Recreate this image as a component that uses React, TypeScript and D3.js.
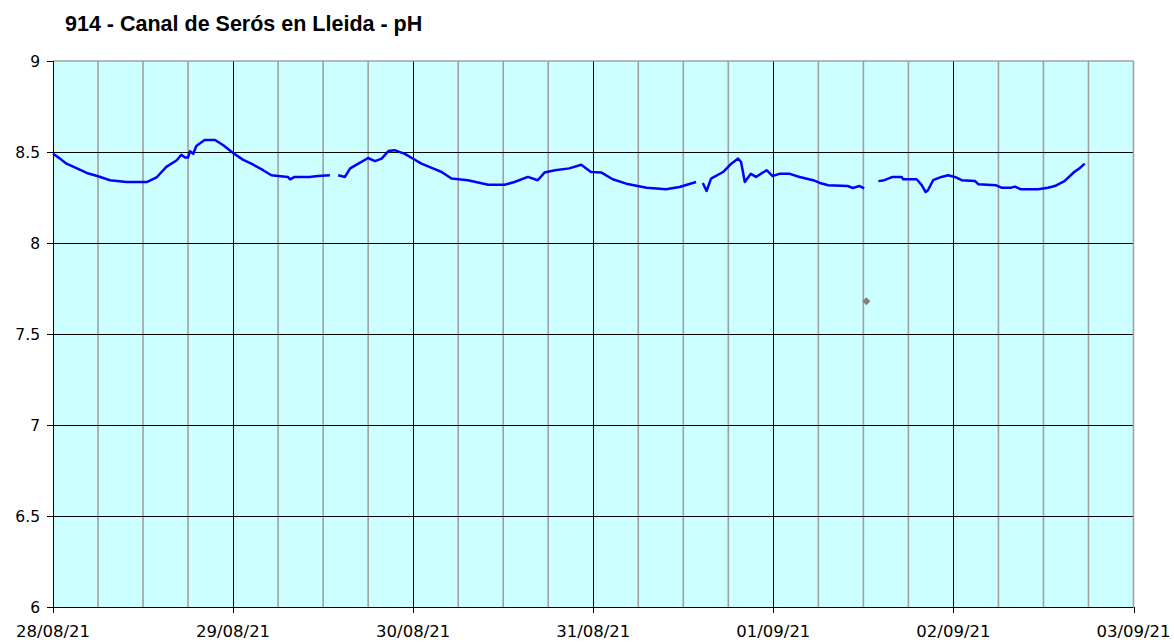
import React from "react";
import * as d3 from "d3";

const TITLE = "914 - Canal de Serós en Lleida - pH";
const dayLabels = ["28/08/21", "29/08/21", "30/08/21", "31/08/21", "01/09/21", "02/09/21", "03/09/21"];
const yTicks = [6, 6.5, 7, 7.5, 8, 8.5, 9];
const yTickLabels = ["6", "6.5", "7", "7.5", "8", "8.5", "9"];

// hours since 28/08/21 00:00 and pH value (null = gap)
const hours: number[] = [
  0, 0.9, 1.8, 3.2, 4.5, 6.0, 7.6, 9.8, 12.5, 13.8, 15.1, 16.5, 17.1, 17.6, 18.0, 18.25, 18.7, 19.1, 20.2, 21.6,
  22.7, 24.0, 25.3, 26.7, 28.0, 29.1, 31.3, 31.6, 32.2, 34.2, 35.3, 36.9, 37.5,
  38.0, 38.9, 39.6, 40.7, 42.0, 42.9, 43.8, 44.7, 45.5, 46.9, 47.7, 49.1, 50.4, 51.8, 53.1, 55.3, 58.0, 60.2,
  61.5, 63.3, 64.6, 65.5, 66.9, 68.8, 70.4, 71.7, 73.1, 74.6, 76.4, 79.1, 81.7, 83.5, 85.7, 86.2,
  86.6, 87.1, 87.7, 89.3, 90.4, 91.3, 91.7, 92.2, 93.0, 93.7, 95.1, 95.9, 96.8, 98.2, 99.5, 101.3, 102.2,
  103.3, 105.9, 106.6, 107.5, 108.1, 109.0,
  110.0, 110.8, 111.9, 113.1, 113.3, 115.1, 115.8, 116.3, 116.6, 117.3, 118.4, 119.3, 120.2, 121.1, 122.9,
  123.3, 125.7, 126.4, 127.7, 128.2, 129.0, 131.3, 132.6, 133.5, 134.8, 136.1, 136.8, 137.5,
];
const ph: (number | null)[] = [
  8.49, 8.465, 8.436, 8.41, 8.385, 8.367, 8.345, 8.335, 8.335, 8.36, 8.418, 8.455, 8.485, 8.47, 8.47, 8.504, 8.49, 8.533, 8.566, 8.566,
  8.537, 8.495, 8.458, 8.43, 8.40, 8.372, 8.363, 8.35, 8.363, 8.363, 8.368, 8.372, null,
  8.372, 8.363, 8.41, 8.436, 8.467, 8.45, 8.464, 8.505, 8.51, 8.49, 8.47, 8.436, 8.414, 8.39, 8.354, 8.345, 8.32, 8.32,
  8.335, 8.363, 8.345, 8.387, 8.40, 8.41, 8.43, 8.39, 8.387, 8.35, 8.326, 8.304, 8.295, 8.308, 8.335, null,
  8.33, 8.286, 8.354, 8.39, 8.436, 8.464, 8.445, 8.335, 8.38, 8.363, 8.40, 8.368, 8.38, 8.38, 8.363, 8.345, 8.33,
  8.317, 8.313, 8.302, 8.313, 8.30, null,
  8.34, 8.345, 8.363, 8.363, 8.35, 8.35, 8.317, 8.28, 8.29, 8.345, 8.363, 8.372, 8.363, 8.345, 8.34,
  8.323, 8.317, 8.304, 8.304, 8.31, 8.295, 8.295, 8.304, 8.313, 8.34, 8.39, 8.41, 8.436,
];
const isolatedHours = [108.4];
const isolatedPh = [7.68];

export default function App() {
  const W = 1174;
  const H = 642;
  const left = 53, right = 1133.5, top = 61, bottom = 607;
  const x = d3.scaleLinear().domain([0, 144]).range([left, right]);
  const y = d3.scaleLinear().domain([6, 9]).range([bottom, top]);
  const data = hours.map((h, i) => ({ h, v: ph[i] }));
  const line = d3
    .line<{ h: number; v: number | null }>()
    .defined((d) => d.v !== null)
    .x((d) => x(d.h))
    .y((d) => y(d.v as number));
  const minor = d3.range(6, 144, 6).filter((h) => h % 24 !== 0);
  const major = d3.range(24, 144, 24);
  const font = "'DejaVu Sans', Verdana, sans-serif";
  return (
    <svg width={W} height={H} style={{ position: "absolute", left: 0, top: 0, background: "#fff" }}>
      <text x={65} y={31} fontFamily="'Liberation Sans', Arial, sans-serif" fontWeight="bold" fontSize={21.5} fill="#000">
        {TITLE}
      </text>
      <rect x={left} y={top} width={right - left} height={bottom - top} fill="#CCFFFF" />
      {minor.map((h) => (
        <line key={"m" + h} x1={x(h)} x2={x(h)} y1={top} y2={bottom} stroke="#a0a0a0" strokeWidth={1.6} />
      ))}
      {yTicks.slice(1, -1).map((v) => (
        <line key={"h" + v} x1={left} x2={right} y1={Math.round(y(v)) + 0.5} y2={Math.round(y(v)) + 0.5} stroke="#000" strokeWidth={1} />
      ))}
      {major.map((h) => (
        <line key={"M" + h} x1={Math.round(x(h)) + 0.5} x2={Math.round(x(h)) + 0.5} y1={top} y2={bottom} stroke="#000" strokeWidth={1} />
      ))}
      <line x1={left} x2={right} y1={top} y2={top} stroke="#a0a0a0" strokeWidth={1.6} />
      <line x1={right} x2={right} y1={top} y2={bottom} stroke="#a0a0a0" strokeWidth={1.6} />
      <line x1={left + 0.5} x2={left + 0.5} y1={top} y2={bottom} stroke="#000" strokeWidth={1} />
      <line x1={left} x2={right} y1={bottom + 0.5} y2={bottom + 0.5} stroke="#000" strokeWidth={1} />
      {yTicks.map((v, i) => (
        <g key={"yt" + v}>
          <line x1={47} x2={left} y1={Math.round(y(v)) + 0.5} y2={Math.round(y(v)) + 0.5} stroke="#000" strokeWidth={1} />
          <text x={40} y={y(v)} dy="0.36em" textAnchor="end" fontFamily={font} fontSize={15.5} fill="#000">
            {yTickLabels[i]}
          </text>
        </g>
      ))}
      {dayLabels.map((lab, i) => (
        <g key={"xt" + i}>
          <line x1={Math.round(x(i * 24)) + 0.5} x2={Math.round(x(i * 24)) + 0.5} y1={bottom} y2={bottom + 6} stroke="#000" strokeWidth={1} />
          <text x={x(i * 24)} y={637} textAnchor="middle" fontFamily={font} fontSize={16.5} fill="#000">
            {lab}
          </text>
        </g>
      ))}
      <path d={line(data) || ""} fill="none" stroke="#0000FF" strokeWidth={2.5} strokeLinejoin="round" />
      {isolatedHours.map((h, i) => {
        const cx = x(h), cy = y(isolatedPh[i]);
        return (
          <path key={"d" + i} d={`M${cx},${cy - 4}L${cx + 4},${cy}L${cx},${cy + 4}L${cx - 4},${cy}Z`} fill="#808080" />
        );
      })}
    </svg>
  );
}
